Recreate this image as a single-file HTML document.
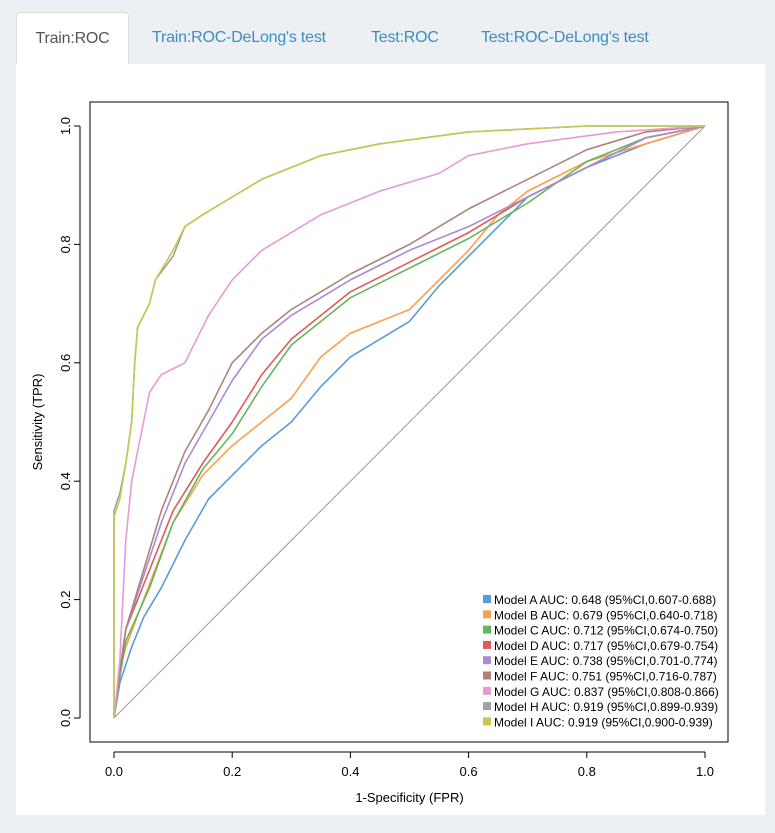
<!DOCTYPE html>
<html><head><meta charset="utf-8"><style>
body{margin:0;width:775px;height:833px;background:#ecf0f5;font-family:"Liberation Sans",sans-serif;position:relative;overflow:hidden}
.tab{position:absolute;top:12px;height:52px;line-height:52px;font-size:16px;color:#3c8dbc;font-family:"Liberation Sans",sans-serif;letter-spacing:-0.2px}
#active{left:16px;width:113px;background:#fff;border:1px solid #ddd;border-bottom:none;border-radius:4px 4px 0 0;color:#555;text-align:center;box-sizing:border-box}
#panel{position:absolute;left:16px;top:64px;width:749px;height:751px;background:#fff}
svg{position:absolute;left:0;top:0}
</style></head><body>
<div class="tab" id="active">Train:ROC</div>
<div class="tab" style="left:152px">Train:ROC-DeLong's test</div>
<div class="tab" style="left:371px">Test:ROC</div>
<div class="tab" style="left:481px">Test:ROC-DeLong's test</div>
<div id="panel"></div>
<svg id="chart" width="775" height="833"></svg>
<script>
const modelNames=["Model A","Model B","Model C","Model D","Model E","Model F","Model G","Model H","Model I"];
const aucLabels=["0.648 (95%CI,0.607-0.688)","0.679 (95%CI,0.640-0.718)","0.712 (95%CI,0.674-0.750)","0.717 (95%CI,0.679-0.754)","0.738 (95%CI,0.701-0.774)","0.751 (95%CI,0.716-0.787)","0.837 (95%CI,0.808-0.866)","0.919 (95%CI,0.899-0.939)","0.919 (95%CI,0.900-0.939)"];
const colors=["#5b9bd5","#ff9f4a","#63b75a","#e05a5a","#a98bd4","#b0827a","#e89ad4","#a0a0a0","#c8c850"];
const fprA=[0,0.01,0.03,0.05,0.08,0.12,0.16,0.2,0.25,0.3,0.35,0.4,0.5,0.55,0.6,0.65,0.7,0.8,0.9,1];
const tprA=[0,0.06,0.12,0.17,0.22,0.3,0.37,0.41,0.46,0.5,0.56,0.61,0.67,0.73,0.78,0.83,0.88,0.93,0.97,1];
const fprB=[0,0.01,0.02,0.05,0.1,0.15,0.2,0.25,0.3,0.35,0.4,0.5,0.55,0.6,0.65,0.7,0.8,0.9,1];
const tprB=[0,0.08,0.12,0.2,0.33,0.41,0.46,0.5,0.54,0.61,0.65,0.69,0.74,0.79,0.85,0.89,0.94,0.97,1];
const fprC=[0,0.01,0.02,0.06,0.1,0.15,0.2,0.25,0.3,0.35,0.4,0.5,0.6,0.7,0.8,0.9,1];
const tprC=[0,0.07,0.13,0.22,0.33,0.42,0.48,0.56,0.63,0.67,0.71,0.76,0.81,0.87,0.94,0.98,1];
const fprD=[0,0.01,0.02,0.06,0.1,0.15,0.2,0.25,0.3,0.35,0.4,0.5,0.6,0.7,0.8,0.9,1];
const tprD=[0,0.08,0.15,0.25,0.35,0.43,0.5,0.58,0.64,0.68,0.72,0.77,0.82,0.88,0.93,0.98,1];
const fprE=[0,0.01,0.02,0.05,0.08,0.12,0.16,0.2,0.25,0.3,0.4,0.5,0.6,0.7,0.8,0.9,1];
const tprE=[0,0.08,0.15,0.24,0.33,0.43,0.5,0.57,0.64,0.68,0.74,0.79,0.83,0.88,0.93,0.98,1];
const fprF=[0,0.01,0.02,0.05,0.08,0.12,0.16,0.2,0.25,0.3,0.35,0.4,0.5,0.6,0.7,0.8,0.9,1];
const tprF=[0,0.08,0.15,0.25,0.35,0.45,0.52,0.6,0.65,0.69,0.72,0.75,0.8,0.86,0.91,0.96,0.99,1];
const fprG=[0,0.005,0.01,0.02,0.03,0.04,0.06,0.08,0.12,0.16,0.2,0.25,0.3,0.35,0.45,0.55,0.6,0.7,0.85,1];
const tprG=[0,0.05,0.1,0.3,0.4,0.45,0.55,0.58,0.6,0.68,0.74,0.79,0.82,0.85,0.89,0.92,0.95,0.97,0.99,1];
const fprH=[0,0,0.01,0.02,0.03,0.035,0.04,0.06,0.07,0.1,0.12,0.15,0.2,0.25,0.3,0.35,0.45,0.6,0.8,1];
const tprH=[0,0.35,0.38,0.43,0.5,0.6,0.66,0.7,0.74,0.78,0.83,0.85,0.88,0.91,0.93,0.95,0.97,0.99,1,1];
const fprI=[0,0,0.01,0.02,0.03,0.035,0.04,0.06,0.07,0.1,0.12,0.15,0.2,0.25,0.3,0.35,0.45,0.6,0.8,1];
const tprI=[0,0.34,0.37,0.43,0.5,0.6,0.66,0.7,0.74,0.79,0.83,0.85,0.88,0.91,0.93,0.95,0.97,0.99,1,1];
const axisTicks=[0,0.2,0.4,0.6,0.8,1];
const tickLabels=["0.0","0.2","0.4","0.6","0.8","1.0"];
const series=[[fprA,tprA],[fprB,tprB],[fprC,tprC],[fprD,tprD],[fprE,tprE],[fprF,tprF],[fprG,tprG],[fprH,tprH],[fprI,tprI]];
const NS="http://www.w3.org/2000/svg",svg=document.getElementById('chart');
const X=v=>114+v*591, Y=v=>718-v*592;
function mk(t,a,p){const e=document.createElementNS(NS,t);for(const k in a)e.setAttribute(k,a[k]);(p||svg).appendChild(e);return e;}
let e=mk('rect',{x:90,y:102,width:638,height:640,fill:'none',stroke:'#000','stroke-width':1});


e=mk('line',{x1:X(0),y1:Y(0),x2:X(1),y2:Y(1),stroke:'#999','stroke-width':1});


e=mk('line',{x1:X(0),y1:752,x2:X(1),y2:752,stroke:'#000'});


e=mk('line',{x1:80,y1:Y(0),x2:80,y2:Y(1),stroke:'#000'});


axisTicks.forEach((t,i)=>{
 mk('line',{x1:X(t),y1:752,x2:X(t),y2:758,stroke:'#000'});
 let l=mk('text',{x:X(t),y:776,'text-anchor':'middle','font-size':13,fill:'#000'});l.textContent=tickLabels[i];
 
 
 mk('line',{x1:80,y1:Y(t),x2:74,y2:Y(t),stroke:'#000'});
 let m=mk('text',{x:0,y:0,'text-anchor':'middle','font-size':13,fill:'#000',transform:`translate(70,${Y(t)}) rotate(-90)`});m.textContent=tickLabels[i];
 
 
});
e=mk('text',{x:X(0.5),y:802,'text-anchor':'middle','font-size':13});e.textContent='1-Specificity (FPR)';


e=mk('text',{x:0,y:0,'text-anchor':'middle','font-size':13,transform:`translate(42,${Y(0.5)}) rotate(-90)`});e.textContent='Sensitivity (TPR)';


series.forEach((s,i)=>{
 let pts=[];for(let j=0;j<s[0].length;j++){pts.push(X(s[0][j]).toFixed(1)+','+Y(s[1][j]).toFixed(1));}
 const p=mk('polyline',{points:pts.join(' '),fill:'none',stroke:colors[i],'stroke-width':1.6,'stroke-linejoin':'round'});
 
 
});
modelNames.forEach((n,i)=>{
 const y=600+i*15.3;
 const r=mk('rect',{x:483,y:y-5,width:8,height:8,fill:colors[i]});
 
 
 const t=mk('text',{x:494,y:y+4,'font-size':12});t.textContent=n+' AUC: '+aucLabels[i];
 
 
});
</script>
</body></html>
